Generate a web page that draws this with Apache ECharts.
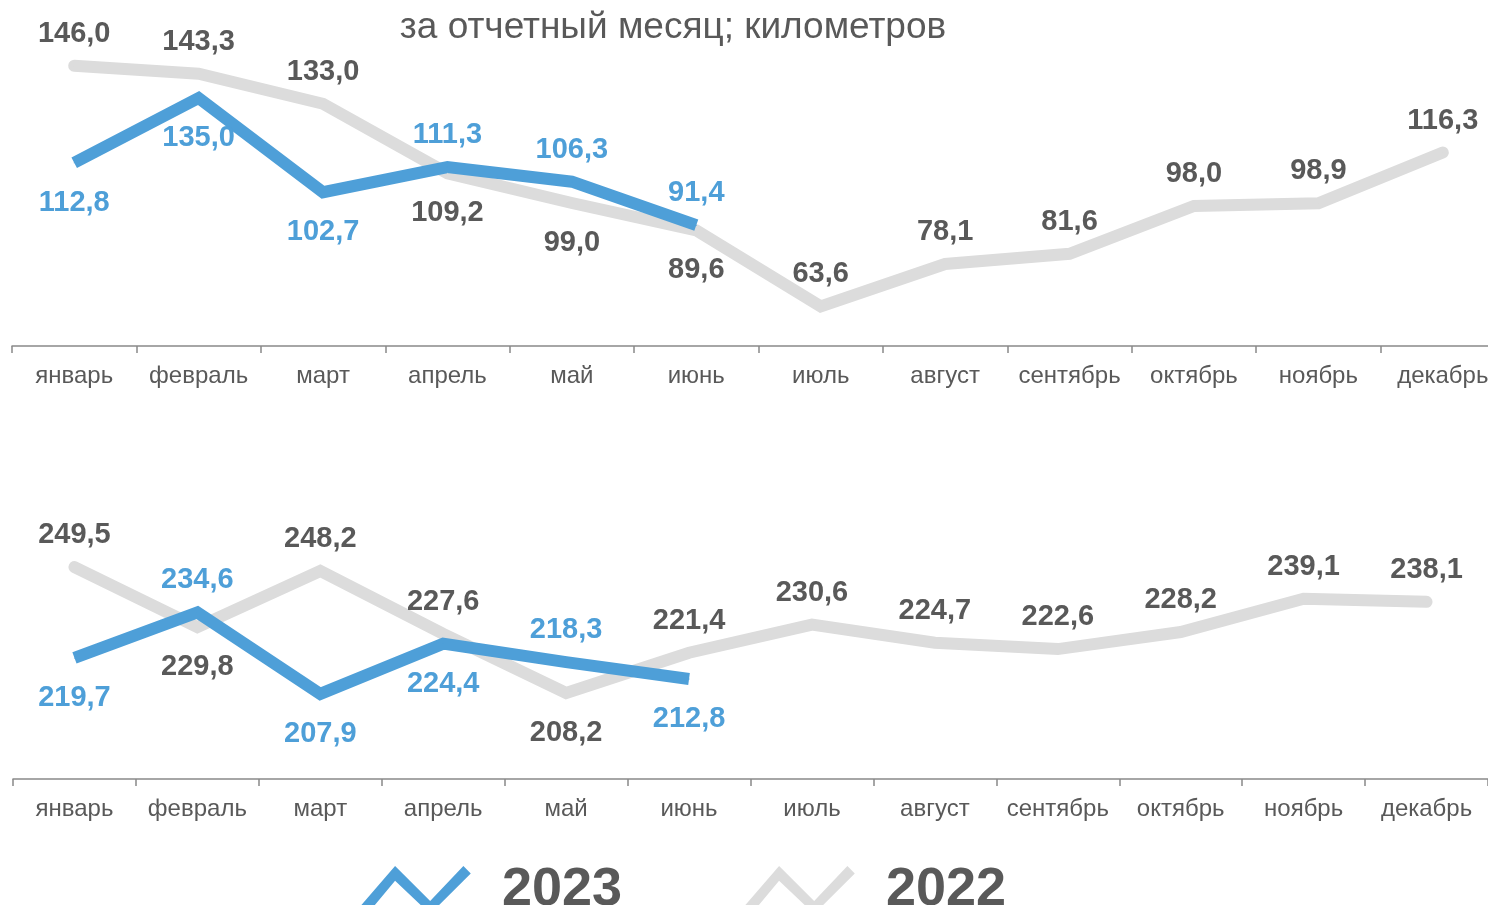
<!DOCTYPE html>
<html>
<head>
<meta charset="utf-8">
<script src="https://cdn.jsdelivr.net/npm/echarts@6/dist/echarts.min.js"></script>
<style>
    html, body { margin: 0; padding: 0; background: #fff; }
    #chart { width: 1488px; height: 905px; }
</style>
</head>
<body>
<div id="chart"></div>
<script>
// months
let months = ['январь', 'февраль', 'март', 'апрель', 'май', 'июнь', 'июль', 'август', 'сентябрь', 'октябрь', 'ноябрь', 'декабрь'];

// top panel: за отчетный месяц
let top2022 = [146.0, 143.3, 133.0, 109.2, 99.0, 89.6, 63.6, 78.1, 81.6, 98.0, 98.9, 116.3];
let top2023 = [112.8, 135.0, 102.7, 111.3, 106.3, 91.4];

// bottom panel
let bottom2022 = [249.5, 229.8, 248.2, 227.6, 208.2, 221.4, 230.6, 224.7, 222.6, 228.2, 239.1, 238.1];
let bottom2023 = [219.7, 234.6, 207.9, 224.4, 218.3, 212.8];

// where each value label sits (t = above, b = below)
let top2022Pos = ['t', 't', 't', 'b', 'b', 'b', 't', 't', 't', 't', 't', 't'];
let top2023Pos = ['b', 'b', 'b', 't', 't', 't'];
let bottom2022Pos = ['t', 'b', 't', 't', 'b', 't', 't', 't', 't', 't', 't', 't'];
let bottom2023Pos = ['b', 't', 'b', 'b', 't', 'b'];

const BLUE = '#4E9FD8';
const GREY = '#DCDCDC';
const TEXT = '#595959';
const FONT = '"Liberation Sans", Arial, sans-serif';

function fmt(v) {
    return v.toFixed(1).replace('.', ',');
}

function points(values, pos) {
    return values.map(function (v, i) {
        let up = pos[i] === 't';
        return {
            value: v,
            label: {position: up ? 'top' : 'bottom', distance: up ? 17 : 25}
        };
    });
}

function lineSeries(name, values, pos, color, axis, cap) {
    return {
        name: name,
        type: 'line',
        xAxisIndex: axis,
        yAxisIndex: axis,
        data: points(values, pos),
        symbol: 'circle',
        symbolSize: 1,
        itemStyle: {color: color},
        lineStyle: {color: color, width: 12, cap: cap, join: 'miter'},
        label: {
            show: true,
            color: color === BLUE ? BLUE : TEXT,
            fontSize: 29,
            fontWeight: 'bold',
            fontFamily: FONT,
            formatter: function (p) { return fmt(p.value); }
        },
        emphasis: {disabled: true},
        animation: false
    };
}

function catAxis(grid) {
    return {
        type: 'category',
        gridIndex: grid,
        data: months,
        boundaryGap: true,
        axisLine: {lineStyle: {color: '#898989', width: 1.5}},
        axisTick: {show: true, length: 7, lineStyle: {color: '#898989', width: 1.5}},
        axisLabel: {color: TEXT, fontSize: 24, fontFamily: FONT, margin: 18, interval: 0}
    };
}

function valAxis(grid, min, max) {
    return {type: 'value', gridIndex: grid, min: min, max: max, show: false, splitLine: {show: false}};
}

// zigzag icon for the legend
let zigzag = 'path://M0,44 L38,0 L76,38 L112,0 L120,8 L76,52 L38,16 L8,52 Z';

let chart = echarts.init(document.getElementById('chart'));
chart.setOption({
    backgroundColor: '#fff',
    title: {
        text: 'за отчетный месяц; километров',
        left: 668,
        textAlign: 'center',
        top: 4,
        textStyle: {color: TEXT, fontSize: 37, fontWeight: 'normal', fontFamily: FONT}
    },
    legend: {
        data: ['2023', '2022'],
        left: 355,
        top: 858,
        icon: zigzag,
        itemWidth: 115,
        itemHeight: 48,
        itemGap: 122,
        selectedMode: false,
        textStyle: {color: TEXT, fontSize: 54, fontWeight: 'bold', fontFamily: FONT, padding: [0, 0, 0, 24]}
    },
    grid: [
        {left: 12, top: 25, width: 1493, height: 321, outerBoundsMode: 'none', containLabel: false},
        {left: 13, top: 535, width: 1475, height: 244, outerBoundsMode: 'none', containLabel: false}
    ],
    xAxis: [catAxis(0), catAxis(1)],
    yAxis: [valAxis(0, 50, 160), valAxis(1, 180, 260)],
    series: [
        lineSeries('2022', top2022, top2022Pos, GREY, 0, 'round'),
        lineSeries('2023', top2023, top2023Pos, BLUE, 0, 'butt'),
        lineSeries('2022', bottom2022, bottom2022Pos, GREY, 1, 'round'),
        lineSeries('2023', bottom2023, bottom2023Pos, BLUE, 1, 'butt')
    ]
});
</script>
</body>
</html>
